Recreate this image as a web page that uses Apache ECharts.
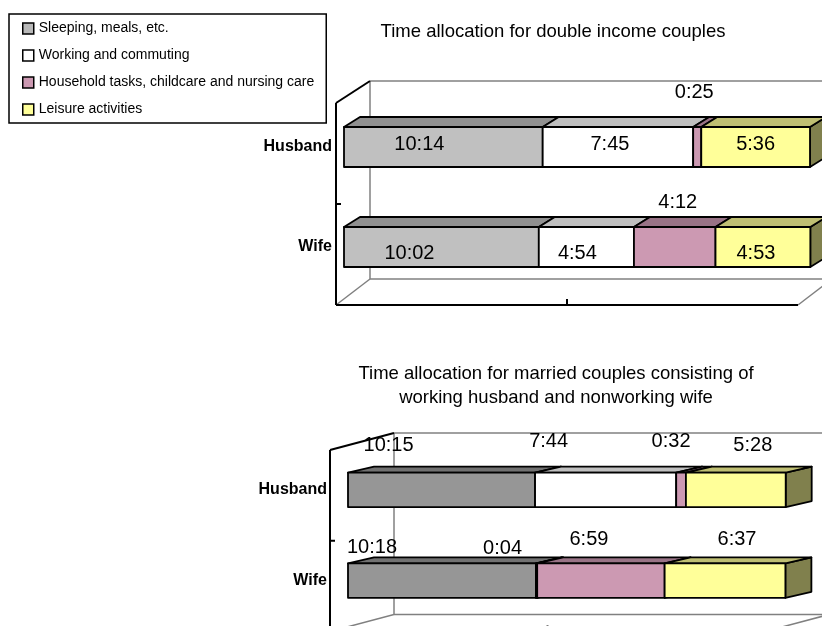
<!DOCTYPE html>
<html>
<head>
<meta charset="utf-8">
<script src="https://cdn.jsdelivr.net/npm/echarts@6/dist/echarts.min.js"></script>
<style>
  html, body { margin: 0; padding: 0; background: #fff; }
  #chart-container { width: 822px; height: 626px; }
</style>
</head>
<body>
<div id="chart-container"></div>
<script>
// data (h:mm per day)
var categories = ["Husband", "Wife"];
var activities = [
  "Sleeping, meals, etc.",
  "Working and commuting",
  "Household tasks, childcare and nursing care",
  "Leisure activities"
];
var doubleHusband = ["10:14", "7:45", "0:25", "5:36"];
var doubleWife = ["10:02", "4:54", "4:12", "4:53"];
var singleHusband = ["10:15", "7:44", "0:32", "5:28"];
var singleWife = ["10:18", "0:04", "6:59", "6:37"];

var title1 = "Time allocation for double income couples";
var title2 = "Time allocation for married couples consisting of\nworking husband and nonworking wife";

var legendColors = ["#B8B8B8", "#FFFFFF", "#CC99B2", "#FFFF99"];

function toHours(s) {
  var p = s.split(":");
  return Number(p[0]) + Number(p[1]) / 60;
}

function shade(hex, f) {
  var n = parseInt(hex.slice(1), 16);
  var r = Math.round(((n >> 16) & 255) * f);
  var g = Math.round(((n >> 8) & 255) * f);
  var b = Math.round((n & 255) * f);
  return "rgb(" + r + "," + g + "," + b + ")";
}

// look of each of the two panels
var panels = [
  {
    values: [doubleHusband, doubleWife],
    grid: { left: 344, top: 97, width: 466, height: 200 },
    barRatio: 0.4,
    depth: [16, -10],
    colors: ["#C0C0C0", "#FFFFFF", "#CC99B2", "#FFFF99"],
    labelMode: ["inside", "inside", "above", "inside"],
    nudge: [
      [[-24, -3], [-8, -3], [-3, -35], [0, -3]],
      [[-32, 6.5], [-9, 6.5], [3, -25], [-7, 6.5]]
    ],
    catMargin: 12,
    catPad: 20,
    frame: { fl: -8, ft: 6, fb: 8, fr: -12, bl: 26, bt: -16, bb: -18, br: 22 }
  },
  {
    values: [singleHusband, singleWife],
    grid: { left: 348, top: 444.5, width: 438, height: 184 },
    barRatio: 0.38,
    depth: [26, -6],
    colors: ["#969696", "#FFFFFF", "#CC99B2", "#FFFF99"],
    labelMode: ["above", "above", "above", "above"],
    nudge: [
      [[-53, -27.5], [-57, -31], [-10, -31], [17, -27.5]],
      [[-70, -15.5], [-34, -15], [-12, -23.5], [12, -23.5]]
    ],
    catMargin: 21,
    catPad: 12,
    frame: { fl: -18, ft: 5.5, fb: 5.5, fr: -21, bl: 46, bt: -11.5, bb: -11.5, br: 43 }
  }
];

function frameRenderer(f) {
  return function (params, api) {
    var cs = params.coordSys;
    var x0 = cs.x, x1 = cs.x + cs.width, y0 = cs.y, y1 = cs.y + cs.height;
    var FL = x0 + f.fl, FR = x1 + f.fr, FT = y0 + f.ft, FB = y1 + f.fb;
    var BL = x0 + f.bl, BR = x1 + f.br, BT = y0 + f.bt, BB = y1 + f.bb;
    var back = { stroke: "#808080", lineWidth: 1.5 };
    var front = { stroke: "#000", lineWidth: 2 };
    function ln(a, b, c, d, st) {
      return { type: "line", shape: { x1: a, y1: b, x2: c, y2: d }, style: st };
    }
    var midY = (FT + FB) / 2, midX = (FL + FR) / 2;
    return {
      type: "group",
      children: [
        ln(BL, BT, BR, BT, back),
        ln(BL, BB, BR, BB, back),
        ln(BL, BT, BL, BB, back),
        ln(BR, BT, BR, BB, back),
        ln(FL, FB, BL, BB, back),
        ln(FR, FB, BR, BB, back),
        ln(FL, FT, BL, BT, front),
        ln(FL, FT, FL, FB, front),
        ln(FL, FB, FR, FB, front),
        ln(FL, midY, FL + 5, midY, front),
        ln(midX, FB, midX, FB - 6, front)
      ]
    };
  };
}

function segmentRenderer(p, a) {
  return function (params, api) {
    var ci = api.value(2);
    var p0 = api.coord([api.value(0), ci]);
    var p1 = api.coord([api.value(1), ci]);
    var h = api.size([0, 1])[1] * p.barRatio;
    var x = p0[0], w = p1[0] - p0[0], y = p0[1] - h / 2;
    var dx = p.depth[0], dy = p.depth[1];
    var col = p.colors[a];
    var border = { stroke: "#000", lineWidth: 1.8, lineJoin: "round" };
    var nd = p.nudge[ci][a];
    var lx = x + w / 2 + nd[0];
    var ly = (p.labelMode[a] === "inside" ? p0[1] : y) + nd[1];
    return {
      type: "group",
      children: [
        {
          type: "polygon",
          shape: { points: [[x + w, y], [x + w + dx, y + dy], [x + w + dx, y + h + dy], [x + w, y + h]] },
          style: Object.assign({ fill: shade(col, 0.5) }, border)
        },
        {
          type: "polygon",
          shape: { points: [[x, y], [x + dx, y + dy], [x + w + dx, y + dy], [x + w, y]] },
          style: Object.assign({ fill: shade(col, 0.75) }, border)
        },
        {
          type: "rect",
          shape: { x: x, y: y, width: w, height: h },
          style: Object.assign({ fill: col }, border)
        },
        {
          type: "text",
          z2: 10,
          style: {
            text: p.values[ci][a],
            x: lx,
            y: ly,
            align: "center",
            verticalAlign: "middle",
            font: '20px "Liberation Sans", Arial, sans-serif',
            fill: "#000"
          }
        }
      ]
    };
  };
}

var grids = [], xAxes = [], yAxes = [], series = [];
panels.forEach(function (p, gi) {
  grids.push(p.grid);
  xAxes.push({ type: "value", gridIndex: gi, min: 0, max: 24, show: false });
  yAxes.push({
    type: "category",
    gridIndex: gi,
    data: categories,
    inverse: true,
    axisLine: { show: false },
    axisTick: { show: false },
    splitLine: { show: false },
    axisLabel: {
      margin: p.catMargin,
      padding: [p.catPad, 0, 0, 0],
      fontFamily: "Liberation Sans",
      fontWeight: "bold",
      fontSize: 16,
      color: "#000"
    }
  });
  series.push({
    type: "custom",
    name: "frame" + gi,
    xAxisIndex: gi,
    yAxisIndex: gi,
    clip: false,
    silent: true,
    renderItem: frameRenderer(p.frame),
    data: [[0, 0]]
  });
  activities.forEach(function (name, a) {
    var data = categories.map(function (c, ci) {
      var vals = p.values[ci];
      var start = 0;
      for (var k = 0; k < a; k++) start += toHours(vals[k]);
      return [start, start + toHours(vals[a]), ci];
    });
    series.push({
      type: "custom",
      name: name,
      xAxisIndex: gi,
      yAxisIndex: gi,
      clip: false,
      itemStyle: { color: p.colors[a] },
      encode: { x: [0, 1], y: 2 },
      renderItem: segmentRenderer(p, a),
      data: data
    });
  });
});

var chartDom = document.getElementById("chart-container");
var myChart = echarts.init(chartDom);

var option = {
  animation: false,
  backgroundColor: "#fff",
  legend: {
    orient: "vertical",
    left: 9,
    top: 14,
    padding: [6, 12, 5, 13],
    itemGap: 10,
    itemWidth: 11,
    itemHeight: 11,
    borderColor: "#000",
    borderWidth: 1.5,
    borderRadius: 0,
    selectedMode: false,
    textStyle: {
      fontFamily: "Liberation Sans",
      fontSize: 14,
      lineHeight: 17,
      color: "#000"
    },
    data: activities.map(function (n, i) {
      return {
        name: n,
        icon: "rect",
        itemStyle: { color: legendColors[i], borderColor: "#000", borderWidth: 1.5 }
      };
    })
  },
  graphic: [
    {
      type: "text",
      x: 553,
      y: 32,
      style: {
        text: title1,
        align: "center",
        verticalAlign: "middle",
        font: '18.5px "Liberation Sans", Arial, sans-serif',
        fill: "#000"
      }
    },
    {
      type: "text",
      x: 556,
      y: 386,
      style: {
        text: title2,
        align: "center",
        verticalAlign: "middle",
        lineHeight: 24,
        font: '18.5px "Liberation Sans", Arial, sans-serif',
        fill: "#000"
      }
    }
  ],
  grid: grids,
  xAxis: xAxes,
  yAxis: yAxes,
  series: series
};

myChart.setOption(option);
</script>
</body>
</html>
